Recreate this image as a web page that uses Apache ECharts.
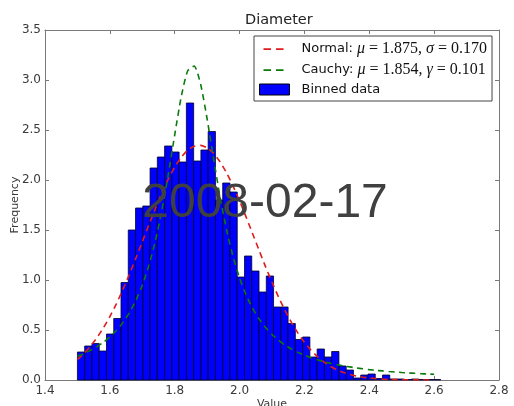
<!DOCTYPE html>
<html>
<head>
<meta charset="utf-8">
<script src="https://cdn.jsdelivr.net/npm/echarts@6/dist/echarts.min.js"></script>
<style>
html,body{margin:0;padding:0;background:#fff;}
#chart{width:514px;height:406px;}
</style>
</head>
<body>
<div id="chart"></div>
<script>
// ---- data ----
var binStart = 1.5;
var binWidth = 0.0224;
var binHeights = [
  0.28, 0.34, 0.365, 0.29, 0.46, 0.615, 0.975, 1.50, 1.72, 1.74,
  2.12, 2.23, 2.34, 2.28, 2.18, 2.77, 2.19, 2.30, 2.485, 1.80,
  1.97, 1.88, 1.03, 1.24, 1.09, 0.88, 1.04, 0.73, 0.73, 0.565,
  0.405, 0.43, 0.23, 0.31, 0.23, 0.285, 0.14, 0.10, 0.02, 0.05,
  0.06, 0.015, 0.05, 0.01, 0.01, 0.005, 0.01, 0.005, 0.005, 0.005
];
var curveX = [
  1.50, 1.52, 1.54, 1.56, 1.58, 1.60, 1.62, 1.64, 1.66, 1.68,
  1.70, 1.72, 1.74, 1.76, 1.78, 1.80, 1.82, 1.84, 1.86, 1.88,
  1.90, 1.92, 1.94, 1.96, 1.98, 2.00, 2.02, 2.04, 2.06, 2.08,
  2.10, 2.12, 2.14, 2.16, 2.18, 2.20, 2.22, 2.24, 2.26, 2.28,
  2.30, 2.32, 2.34, 2.36, 2.38, 2.40, 2.42, 2.44, 2.46, 2.48,
  2.50, 2.52, 2.54, 2.56, 2.58, 2.60
];
var normalY = [
  0.206, 0.265, 0.337, 0.422, 0.521, 0.634, 0.762, 0.903, 1.055, 1.216,
  1.382, 1.549, 1.712, 1.867, 2.008, 2.129, 2.227, 2.298, 2.338, 2.346,
  2.322, 2.266, 2.181, 2.071, 1.939, 1.791, 1.631, 1.465, 1.298, 1.134,
  0.978, 0.831, 0.696, 0.576, 0.469, 0.377, 0.299, 0.234, 0.181, 0.137,
  0.103, 0.076, 0.056, 0.040, 0.028, 0.020, 0.014, 0.009, 0.006, 0.004,
  0.003, 0.002, 0.001, 0.0007, 0.0004, 0.0003
];
var cauchyY = [
  0.237, 0.264, 0.296, 0.333, 0.377, 0.430, 0.495, 0.574, 0.672, 0.794,
  0.948, 1.142, 1.386, 1.689, 2.051, 2.451, 2.831, 3.092, 3.140, 2.956,
  2.610, 2.209, 1.827, 1.500, 1.233, 1.020, 0.852, 0.718, 0.611, 0.525,
  0.455, 0.397, 0.350, 0.310, 0.276, 0.248, 0.223, 0.202, 0.184, 0.168,
  0.154, 0.141, 0.131, 0.121, 0.112, 0.104, 0.097, 0.091, 0.085, 0.080,
  0.075, 0.071, 0.067, 0.063, 0.060, 0.057
];
var xTickMin = 1.4, xTickMax = 2.8, xTickStep = 0.2;
var yTickMin = 0.0, yTickMax = 3.5, yTickStep = 0.5;

// ---- build ----
var histData = binHeights.map(function (h, i) {
  return [binStart + i * binWidth, binStart + (i + 1) * binWidth, h];
});
function pairs(xs, ys) { return xs.map(function (x, i) { return [x, ys[i]]; }); }

var axisColor = '#7a7a7a';
var labelColor = '#3a3a3a';
var font = 'DejaVu Sans';

var chart = echarts.init(document.getElementById('chart'), null, {renderer: 'canvas'});
var xCommon = {
  type: 'value', min: xTickMin, max: xTickMax, interval: xTickStep,
  axisLine: {show: true, onZero: false, lineStyle: {color: axisColor, width: 1}},
  axisTick: {show: true, inside: true, length: 4, lineStyle: {color: axisColor}},
  splitLine: {show: false}
};
var yCommon = {
  type: 'value', min: yTickMin, max: yTickMax, interval: yTickStep,
  axisLine: {show: true, onZero: false, lineStyle: {color: axisColor, width: 1}},
  axisTick: {show: true, inside: true, length: 4, lineStyle: {color: axisColor}},
  splitLine: {show: false}
};
var dashIcon = 'path://M0,0h0.01v0.01h-0.01z M29.99,10.99h0.01v0.01h-0.01z M4,4.7h7.5v1.7h-7.5z M16.5,4.7h7.5v1.7h-7.5z';
var rectIcon = 'path://M0,0h30v11h-30z';

var option = {
  animation: false,
  backgroundColor: '#ffffff',
  textStyle: {fontFamily: font},
  title: {
    text: 'Diameter', left: 240, top: 8,
    textStyle: {fontFamily: font, fontSize: 14.5, fontWeight: 'normal', color: '#222'}
  },
  grid: {left: 45, right: 15, top: 30, bottom: 26, containLabel: false, outerBoundsMode: 'none'},
  xAxis: [
    Object.assign({}, xCommon, {
      position: 'bottom',
      axisLabel: {show: true, color: labelColor, fontSize: 12, fontFamily: font, margin: 5,
        formatter: function (v) { return v.toFixed(1); }},
      name: 'Value', nameLocation: 'middle', nameGap: 19, nameMoveOverlap: false,
      nameTextStyle: {color: labelColor, fontSize: 11, fontFamily: font}
    }),
    Object.assign({}, xCommon, {position: 'top', axisLabel: {show: false}})
  ],
  yAxis: [
    Object.assign({}, yCommon, {
      position: 'left',
      axisLabel: {show: true, color: labelColor, fontSize: 12, fontFamily: font, margin: 4,
        formatter: function (v) { return v.toFixed(1); }},
      name: 'Frequency', nameLocation: 'middle', nameGap: 24, nameMoveOverlap: false,
      nameTextStyle: {color: labelColor, fontSize: 11, fontFamily: font}
    }),
    Object.assign({}, yCommon, {position: 'right', axisLabel: {show: false}})
  ],
  legend: {
    show: true, orient: 'vertical', left: 254, top: 36,
    padding: [5, 5, 5, 5], itemGap: 5, itemWidth: 30, itemHeight: 11,
    symbolKeepAspect: false,
    borderColor: '#444', borderWidth: 1, backgroundColor: '#ffffff',
    selectedMode: false,
    data: [
      {name: 'Normal', icon: dashIcon, itemStyle: {color: '#e01b1b', borderWidth: 0}},
      {name: 'Cauchy', icon: dashIcon, itemStyle: {color: '#0a7a0a', borderWidth: 0}},
      {name: 'Binned data', icon: rectIcon, itemStyle: {color: '#0000ff', borderColor: '#000', borderWidth: 1}}
    ],
    formatter: function (name) {
      if (name === 'Normal') return '{g| }{t|Normal: }{m|μ}{d| = 1.875, }{m|σ}{d| = 0.170}';
      if (name === 'Cauchy') return '{g| }{t|Cauchy: }{m|μ}{d| = 1.854, }{m|γ}{d| = 0.101}';
      return '{g| }{t|Binned data}';
    },
    textStyle: {
      color: '#111',
      rich: {
        g: {width: 7, fontSize: 13, lineHeight: 16},
        t: {fontFamily: font, fontSize: 13, color: '#111', lineHeight: 16},
        m: {fontFamily: 'Liberation Serif', fontStyle: 'italic', fontSize: 16, color: '#111', lineHeight: 16},
        d: {fontFamily: 'Liberation Serif', fontSize: 16, color: '#111', lineHeight: 16}
      }
    }
  },
  graphic: [{
    type: 'text', z: 100,
    style: {
      text: '2008-02-17', x: 265, y: 204,
      fill: '#404040', font: '48px "Liberation Sans"',
      textAlign: 'center', textVerticalAlign: 'middle'
    }
  }],
  series: [
    {
      name: 'Binned data', type: 'custom', xAxisIndex: 0, yAxisIndex: 0,
      data: histData, encode: {x: [0, 1], y: 2},
      itemStyle: {color: '#0000ff'},
      renderItem: function (params, api) {
        var p0 = api.coord([api.value(0), api.value(2)]);
        var p1 = api.coord([api.value(1), 0]);
        return {
          type: 'rect',
          shape: {x: p0[0], y: p0[1], width: p1[0] - p0[0], height: p1[1] - p0[1]},
          style: {fill: '#0000ff', stroke: '#000028', lineWidth: 0.8}
        };
      },
      z: 2
    },
    {
      name: 'Normal', type: 'line', data: pairs(curveX, normalY),
      showSymbol: false, symbol: 'none', smooth: 0.2,
      lineStyle: {color: '#e01b1b', width: 1.6, type: [6, 4.5]},
      itemStyle: {color: '#e01b1b'}, z: 3
    },
    {
      name: 'Cauchy', type: 'line', data: pairs(curveX, cauchyY),
      showSymbol: false, symbol: 'none', smooth: 0.2,
      lineStyle: {color: '#0a7a0a', width: 1.6, type: [6, 4.5]},
      itemStyle: {color: '#0a7a0a'}, z: 3
    }
  ]
};
chart.setOption(option);
</script>
</body>
</html>
